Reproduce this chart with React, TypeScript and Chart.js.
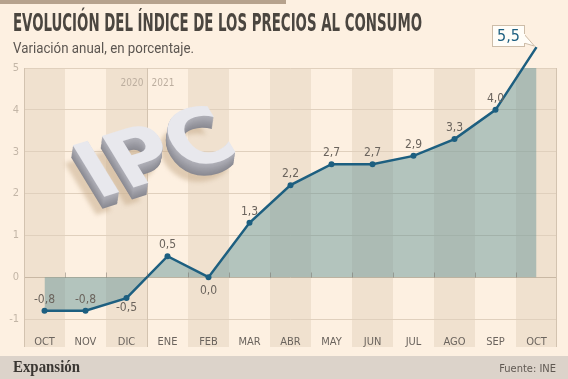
import { useEffect, useRef } from 'react';
import { Chart, registerables } from 'chart.js';

Chart.register(...registerables);

const months = ['OCT', 'NOV', 'DIC', 'ENE', 'FEB', 'MAR', 'ABR', 'MAY', 'JUN', 'JUL', 'AGO', 'SEP', 'OCT'];
const ipc = [-0.8, -0.8, -0.5, 0.5, 0.0, 1.3, 2.2, 2.7, 2.7, 2.9, 3.3, 4.0, 5.5];
const years = ['2020', '2021'];
const title = 'EVOLUCIÓN DEL ÍNDICE DE LOS PRECIOS AL CONSUMO';
const subtitle = 'Variación anual, en porcentaje.';
const brand = 'Expansión';
const source = 'Fuente: INE';
const badge = 'IPC';

const W = 568;
const H = 379;
const COND = "'Liberation Sans Narrow', 'DejaVu Sans Condensed', 'Roboto Condensed', sans-serif";
const LINE = '#1d5f80';
const fmt = (v: number) => v.toFixed(1).replace('.', ',');

const decor = {
  id: 'decor',
  beforeDraw(chart: any) {
    const { ctx, chartArea: a } = chart;
    const bandBottom = 347;
    ctx.save();
    ctx.fillStyle = '#fdf0e1';
    ctx.fillRect(0, 0, W, H);
    ctx.fillStyle = '#b6a28d';
    ctx.fillRect(0, 0, 286, 4);
    const step = (a.right - a.left) / months.length;
    ctx.fillStyle = '#f0e1cf';
    for (let i = 0; i < months.length; i += 2) {
      ctx.fillRect(a.left + i * step, a.top, step, bandBottom - a.top);
    }
    // footer
    ctx.fillStyle = '#dcd3ca';
    ctx.fillRect(0, 356, W, H - 356);
    ctx.fillStyle = '#3a3632';
    ctx.font = "bold 16px 'Liberation Serif', 'DejaVu Serif', serif";
    ctx.textAlign = 'left';
    ctx.textBaseline = 'alphabetic';
    ctx.fillText(brand, 13, 372, 67);
    ctx.fillStyle = '#5f5852';
    ctx.font = `11px ${COND}`;
    ctx.textAlign = 'right';
    ctx.fillText(source, 556, 372);
    // title
    ctx.textAlign = 'left';
    ctx.fillStyle = '#4b4640';
    ctx.font = `bold 24px ${COND}`;
    ctx.fillText(title, 13, 31, 409);
    ctx.fillStyle = '#5c5651';
    ctx.font = "14px 'Roboto', 'Liberation Sans', sans-serif";
    ctx.fillText(subtitle, 13, 53, 181);
    ctx.restore();
  },
  beforeDatasetsDraw(chart: any) {
    const { ctx, chartArea: a } = chart;
    const bandBottom = 347;
    const step = (a.right - a.left) / months.length;
    ctx.save();
    ctx.strokeStyle = '#d3c3b0';
    ctx.lineWidth = 1;
    ctx.beginPath();
    ctx.moveTo(a.left + 0.5, a.top);
    ctx.lineTo(a.left + 0.5, bandBottom);
    ctx.moveTo(a.right - 0.5, a.top);
    ctx.lineTo(a.right - 0.5, bandBottom);
    const div = Math.round(a.left + 3 * step) + 0.5;
    ctx.moveTo(div, a.top);
    ctx.lineTo(div, bandBottom);
    ctx.stroke();
    ctx.fillStyle = '#bcae9f';
    ctx.font = `10px ${COND}`;
    ctx.textBaseline = 'middle';
    ctx.textAlign = 'right';
    ctx.fillText(years[0], div - 4, 83);
    ctx.textAlign = 'left';
    ctx.fillText(years[1], div + 4, 83);

    // 3D IPC badge
    const ox = 97, oy = 199;
    const m = (dx: number, dy: number) => ctx.setTransform(0.95, -0.3, 0.52, 0.85, ox + dx, oy + dy);
    ctx.font = "bold 83px 'DejaVu Sans', sans-serif";
    ctx.textAlign = 'left';
    ctx.textBaseline = 'alphabetic';
    ctx.filter = 'blur(2px)';
    ctx.fillStyle = 'rgba(196,168,134,0.5)';
    m(-8, 18);
    ctx.fillText(badge, 0, 0);
    ctx.filter = 'none';
    const layers = 14;
    for (let k = layers; k >= 1; k--) {
      m(-k * 0.12, k * 0.85);
      const t = k / layers;
      const g = Math.round(178 - 40 * t);
      ctx.fillStyle = `rgb(${g},${g},${g + 8})`;
      ctx.fillText(badge, 0, 0);
    }
    m(0, 0);
    ctx.fillStyle = '#e8e8ed';
    ctx.fillText(badge, 0, 0);
    ctx.setTransform(1, 0, 0, 1, 0, 0);
    ctx.restore();
  },
  afterDatasetsDraw(chart: any) {
    const { ctx, chartArea: a, scales } = chart;
    const step = (a.right - a.left) / months.length;
    const y0 = Math.round(scales.y.getPixelForValue(0)) + 0.5;
    ctx.save();
    ctx.strokeStyle = 'rgba(110,105,95,0.45)';
    ctx.lineWidth = 1;
    ctx.beginPath();
    for (let i = 1; i < months.length; i++) {
      const xx = Math.round(a.left + i * step) + 0.5;
      ctx.moveTo(xx, y0);
      ctx.lineTo(xx, y0 - 5);
    }
    ctx.stroke();
    const meta = chart.getDatasetMeta(0);
    const below = new Set([2, 4]);
    ctx.fillStyle = '#6b645d';
    ctx.font = `12px ${COND}`;
    ctx.textAlign = 'center';
    ctx.textBaseline = 'middle';
    const last = ipc.length - 1;
    meta.data.forEach((p: any, i: number) => {
      if (i === last) return;
      const dy = below.has(i) ? (i === 4 ? 14 : 10) : -11;
      ctx.fillText(fmt(ipc[i]), p.x, p.y + dy);
    });
    // callout for last value
    const p = meta.data[last];
    const bx = 492, by = 25, bw = 32, bh = 21;
    ctx.fillStyle = '#fffdf8';
    ctx.strokeStyle = '#cdbda9';
    ctx.beginPath();
    ctx.moveTo(bx + bw - 1, by + 9);
    ctx.lineTo(p.x - 2, p.y - 1);
    ctx.lineTo(bx + bw - 1, by + bh - 3);
    ctx.closePath();
    ctx.fill();
    ctx.beginPath();
    ctx.moveTo(bx + bw, by + 9);
    ctx.lineTo(p.x - 2, p.y - 1);
    ctx.lineTo(bx + bw, by + bh - 3);
    ctx.stroke();
    ctx.fillRect(bx, by, bw, bh);
    ctx.strokeRect(bx + 0.5, by + 0.5, bw, bh);
    ctx.fillStyle = '#fffdf8';
    ctx.fillRect(bx + bw - 1, by + 9, 2, bh - 12);
    ctx.fillStyle = LINE;
    ctx.font = `16px ${COND}`;
    ctx.fillText(fmt(ipc[last]), bx + bw / 2 + 0.5, by + bh / 2 + 1);
    ctx.restore();
  },
};

export default function App() {
  const ref = useRef<HTMLCanvasElement | null>(null);
  useEffect(() => {
    if (!ref.current) return;
    const chart = new Chart(ref.current, {
      type: 'line',
      data: {
        labels: months,
        datasets: [
          {
            data: ipc,
            borderColor: LINE,
            borderWidth: 2.5,
            pointRadius: 3,
            pointBackgroundColor: LINE,
            pointBorderWidth: 0,
            fill: 'origin',
            backgroundColor: 'rgba(89,142,146,0.45)',
            tension: 0,
            clip: false,
          } as any,
        ],
      },
      options: {
        animation: false,
        responsive: false,
        devicePixelRatio: 1,
        layout: { padding: { top: 68, right: 11, bottom: 32, left: 0 } },
        plugins: { legend: { display: false }, tooltip: { enabled: false } },
        scales: {
          x: {
            offset: true,
            grid: { display: false },
            border: { display: false },
            ticks: {
              color: '#6b645e',
              font: { family: COND, size: 11 },
              padding: 9,
              maxRotation: 0,
              autoSkip: false,
            },
            afterFit: (s: any) => {
              s.height = 28;
            },
          },
          y: {
            min: -1,
            max: 5,
            ticks: {
              stepSize: 1,
              color: '#c3b6a7',
              font: { family: COND, size: 11 },
              padding: 5,
            },
            grid: {
              color: (c: any) => (c.tick && c.tick.value === 0 ? '#c9b8a4' : '#e0d0bd'),
              drawTicks: false,
              lineWidth: 1,
            },
            border: { display: false },
            afterFit: (s: any) => {
              s.width = 24;
            },
          },
        },
      } as any,
      plugins: [decor],
    });
    return () => chart.destroy();
  }, []);
  return (
    <div style={{ position: 'absolute', left: 0, top: 0, width: W, height: H }}>
      <canvas ref={ref} width={W} height={H} style={{ display: 'block', width: W, height: H }} />
    </div>
  );
}
